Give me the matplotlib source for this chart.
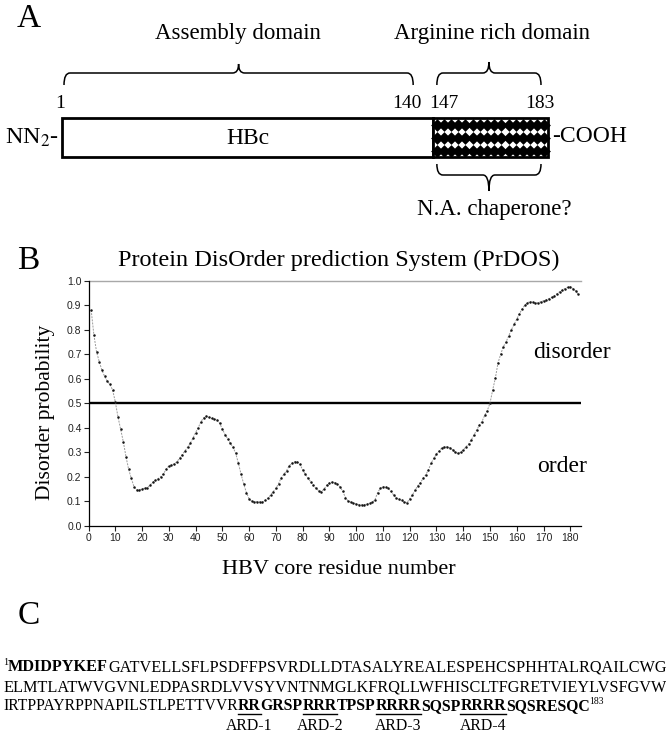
import matplotlib
matplotlib.use('Agg')
import matplotlib.pyplot as plt
from matplotlib.patches import Rectangle, PathPatch
from matplotlib.path import Path
import numpy as np

plt.rcParams['mathtext.fontset'] = 'stix'
SERIF = ['Liberation Serif', 'DejaVu Serif']
SANS = ['Liberation Sans', 'DejaVu Sans']

# ---------------- data ----------------
# Panel A: domain map
domain_labels = ['Assembly domain', 'Arginine rich domain']
domain_start = [1, 147]
domain_end = [140, 183]
bar_label = 'HBc'
n_term_label = 'NN$_2$-'
c_term_label = '-COOH'
chaperone_label = 'N.A. chaperone?'

# Panel B: PrDOS disorder profile
panel_b_title = 'Protein DisOrder prediction System (PrDOS)'
residues = list(range(1, 184))
disorder = [0.88, 0.78, 0.71, 0.67, 0.635, 0.61, 0.59, 0.577, 0.554, 0.506,
             0.445, 0.393, 0.343, 0.282, 0.23, 0.193, 0.159, 0.146, 0.146, 0.150,
             0.153, 0.155, 0.166, 0.177, 0.185, 0.192, 0.2, 0.212, 0.23, 0.244,
             0.248, 0.252, 0.261, 0.275, 0.29, 0.305, 0.32, 0.336, 0.357, 0.38,
             0.40, 0.425, 0.44, 0.448, 0.443, 0.438, 0.435, 0.433, 0.418, 0.395,
             0.372, 0.355, 0.336, 0.32, 0.295, 0.255, 0.21, 0.17, 0.135, 0.11,
             0.099, 0.098, 0.098, 0.097, 0.097, 0.103, 0.112, 0.125, 0.139, 0.152,
             0.172, 0.195, 0.21, 0.225, 0.245, 0.255, 0.262, 0.262, 0.25, 0.228,
             0.21, 0.193, 0.18, 0.165, 0.152, 0.143, 0.139, 0.15, 0.165, 0.175,
             0.178, 0.176, 0.17, 0.158, 0.14, 0.115, 0.1, 0.096, 0.092, 0.089,
             0.086, 0.085, 0.086, 0.088, 0.091, 0.096, 0.105, 0.135, 0.152, 0.159,
             0.159, 0.152, 0.14, 0.125, 0.113, 0.107, 0.103, 0.097, 0.094, 0.11,
             0.125, 0.145, 0.163, 0.176, 0.193, 0.208, 0.228, 0.255, 0.275, 0.293,
             0.305, 0.318, 0.322, 0.322, 0.318, 0.31, 0.3, 0.295, 0.3, 0.309,
             0.322, 0.333, 0.35, 0.37, 0.39, 0.41, 0.425, 0.45, 0.47, 0.5,
             0.554, 0.602, 0.665, 0.7, 0.731, 0.75, 0.775, 0.8, 0.822, 0.845,
             0.865, 0.885, 0.9, 0.91, 0.915, 0.912, 0.908, 0.91, 0.914, 0.918,
             0.922, 0.927, 0.932, 0.938, 0.947, 0.955, 0.962, 0.968, 0.973, 0.976,
             0.968, 0.958, 0.944]
threshold = 0.5
x_ticks = list(range(0, 181, 10))
y_ticks = [0.0, 0.1, 0.2, 0.3, 0.4, 0.5, 0.6, 0.7, 0.8, 0.9, 1.0]
x_label = 'HBV core residue number'
y_label = 'Disorder probability'
region_labels = ['disorder', 'order']

# Panel C: sequence (text, bold, superscript, underline)
seq_line1 = [('1', False, True, False), ('MDIDPYKEF', True, False, False),
             ('GATVELLSFLPSDFFPSVRDLLDTASALYREALESPEHCSPHHTALRQAILCWG', False, False, False)]
seq_line2 = [('ELMTLATWVGVNLEDPASRDLVVSYVNTNMGLKFRQLLWFHISCLTFGRETVIEYLVSFGVW', False, False, False)]
seq_line3 = [('IRTPPAYRPPNAPILSTLPETTVVR', False, False, False),
             ('RR', True, False, True), ('GRSP', True, False, False),
             ('RRR', True, False, True), ('TPSP', True, False, False),
             ('RRRR', True, False, True), ('SQSP', True, False, False),
             ('RRRR', True, False, True), ('SQSRESQC', True, False, False),
             ('183', False, True, False)]
ard_labels = ['ARD-1', 'ARD-2', 'ARD-3', 'ARD-4']

# ---------------- figure ----------------
W, H = 666, 733
fig = plt.figure(figsize=(W / 100, H / 100), dpi=100)
renderer = fig.canvas.get_renderer()

ov = fig.add_axes([0, 0, 1, 1])
ov.set_xlim(0, W)
ov.set_ylim(H, 0)
ov.axis('off')

# ---------- Panel A ----------
BAR_L, BAR_R = 62, 548
BAR_T, BAR_B = 118, 157


def rx(r):
    return BAR_L + (r - 1) * (BAR_R - BAR_L) / (domain_end[-1] - 1)


def brace(x0, x1, y_line, y_end, y_tip, r=6, lw=1.1):
    xm = (x0 + x1) / 2
    verts = [(x0, y_end), (x0, y_line), (x0 + r, y_line),
             (xm - r, y_line), (xm, y_line), (xm, y_tip),
             (xm, y_line), (xm + r, y_line),
             (x1 - r, y_line), (x1, y_line), (x1, y_end)]
    codes = [Path.MOVETO, Path.CURVE3, Path.CURVE3,
             Path.LINETO, Path.CURVE3, Path.CURVE3,
             Path.CURVE3, Path.CURVE3,
             Path.LINETO, Path.CURVE3, Path.CURVE3]
    ov.add_patch(PathPatch(Path(verts, codes), fc='none', ec='black', lw=lw))


ov.text(17, 19, 'A', fontsize=24, family=SERIF, va='center', ha='left')
ov.text(17, 261, 'B', fontsize=24, family=SERIF, va='center', ha='left')
ov.text(18, 616, 'C', fontsize=24, family=SERIF, va='center', ha='left')

# domain labels
ov.text(238, 33, domain_labels[0], fontsize=16.5, family=SERIF, ha='center', va='center')
ov.text(492, 33, domain_labels[1], fontsize=16.5, family=SERIF, ha='center', va='center')

# braces above
b1 = (rx(domain_start[0]) + 2, rx(domain_end[0]) - 20)
b2 = (rx(domain_start[1]) - 15, rx(domain_end[1]) - 7)
brace(b1[0], b1[1], 73, 85, 64)
brace(b2[0], b2[1], 73, 85, 62)
# brace below ARD (opening up)
brace(b2[0], b2[1], 175, 164, 191)

# residue numbers
ov.text(rx(domain_start[0]) - 2, 104, str(domain_start[0]), fontsize=14, family=SERIF, ha='center', va='center')
ov.text(rx(domain_end[0]) - 12, 104, str(domain_end[0]), fontsize=14, family=SERIF, ha='right', va='center')
ov.text(rx(domain_end[0]) - 4, 104, str(domain_start[1]), fontsize=14, family=SERIF, ha='left', va='center')
ov.text(rx(domain_end[1]) - 8, 104, str(domain_end[1]), fontsize=14, family=SERIF, ha='center', va='center')

# bar
ov.add_patch(Rectangle((rx(1), BAR_T), rx(domain_end[0]) - rx(1), BAR_B - BAR_T,
                       fc='white', ec='black', lw=2.0, zorder=3))
hx0, hx1 = rx(domain_end[0]), rx(domain_end[1])
ov.add_patch(Rectangle((hx0, BAR_T), hx1 - hx0, BAR_B - BAR_T, fc='white', ec='none', zorder=3))
ncol, nrow = 16, 3
gx = hx0 + (np.arange(ncol) + 0.5) * (hx1 - hx0) / ncol
gy = BAR_T + (np.arange(nrow) + 0.5) * (BAR_B - BAR_T) / nrow
GX, GY = np.meshgrid(gx, gy)
ov.scatter(GX.ravel(), GY.ravel(), marker='D', s=42, c='black', linewidths=0, zorder=4)
ov.add_patch(Rectangle((hx0, BAR_T), hx1 - hx0, BAR_B - BAR_T, fc='none', ec='black', lw=2.0, zorder=5))
ov.text((rx(1) + hx0) / 2, 138, bar_label, fontsize=17, family=SERIF, ha='center', va='center')
ov.text(rx(1) - 3, 138, n_term_label, fontsize=17.5, family=SERIF, ha='right', va='center')
ov.text(rx(domain_end[1]) + 4, 137, c_term_label, fontsize=17, family=SERIF, ha='left', va='center')
ov.text((b2[0] + b2[1]) / 2 + 5, 209, chaperone_label,
        fontsize=16.5, family=SERIF, ha='center', va='center')

# ---------- Panel B ----------
AX_L, AX_R, AX_T, AX_B = 88.5, 581, 280.7, 525.7
axb = fig.add_axes([AX_L / W, 1 - AX_B / H, (AX_R - AX_L) / W, (AX_B - AX_T) / H])
axb.plot(residues, disorder, color='#9a9a9a', lw=0.7, ls=(0, (2, 1.2)),
         marker='o', ms=1.8, mfc='#151515', mec='none', zorder=3)
axb.axhline(threshold, color='black', lw=1.7, zorder=2)
axb.axhline(1.0, color='#a8a8a8', lw=1.0, clip_on=False, zorder=1)
axb.set_xlim(0, 184)
axb.set_ylim(0, 1.0)
for s in ['top', 'right']:
    axb.spines[s].set_visible(False)
for s in ['left', 'bottom']:
    axb.spines[s].set_linewidth(0.9)
axb.set_xticks(x_ticks)
axb.set_xticklabels([str(v) for v in x_ticks])
axb.set_yticks(y_ticks)
axb.set_yticklabels(['%.1f' % v for v in y_ticks])
axb.tick_params(direction='out', length=3.5, width=0.8, labelsize=7.5, pad=1.5, colors='#222222')
for lab in axb.get_xticklabels() + axb.get_yticklabels():
    lab.set_family(SANS)
axb.patch.set_alpha(0)

ov.text(339, 266, panel_b_title, fontsize=17.5, family=SERIF, ha='center', va='baseline')
ov.text(572, 353, region_labels[0], fontsize=17, family=SERIF, ha='center', va='center')
ov.text(562, 467, region_labels[1], fontsize=17, family=SERIF, ha='center', va='center')
ov.text(339, 570, x_label, fontsize=16, family=SERIF, ha='center', va='center')
ov.text(46, 412, y_label, fontsize=15.5, family=SERIF, ha='center', va='center', rotation=90)

# ---------- Panel C ----------
def measure(runs, size):
    w = 0
    for text, bold, sup, und in runs:
        fs = size * 0.62 if sup else size
        t = ov.text(0, 0, text, fontsize=fs, family=SERIF, fontweight='bold' if bold else 'normal')
        w += t.get_window_extent(renderer).width
        t.remove()
    return w


def fit_size(runs, target, base=11.0):
    return base * target / measure(runs, base)


def run_line(runs, x0, baseline, size):
    x = x0
    spans = []
    for text, bold, sup, und in runs:
        fs = size * 0.62 if sup else size
        yb = baseline - 6 if sup else baseline
        t = ov.text(x, yb, text, fontsize=fs, family=SERIF,
                    fontweight='bold' if bold else 'normal', ha='left', va='baseline')
        w = t.get_window_extent(renderer).width
        if und:
            spans.append((x, x + w))
        x += w
    return spans


s1 = fit_size(seq_line1, 661)
s2 = fit_size(seq_line2, 659)
s3 = s2 * 0.97
run_line(seq_line1, 3, 671, s1)
run_line(seq_line2, 3, 691, s2)
spans = run_line(seq_line3, 3, 710, s3)
for (a, b), lab in zip(spans, ard_labels):
    ov.plot([a, b], [713.5, 713.5], color='black', lw=1.0)
    ov.text((a + b) / 2, 726, lab, fontsize=s2 * 0.97, family=SERIF, ha='center', va='center')

fig.savefig('out.png', dpi=100)
